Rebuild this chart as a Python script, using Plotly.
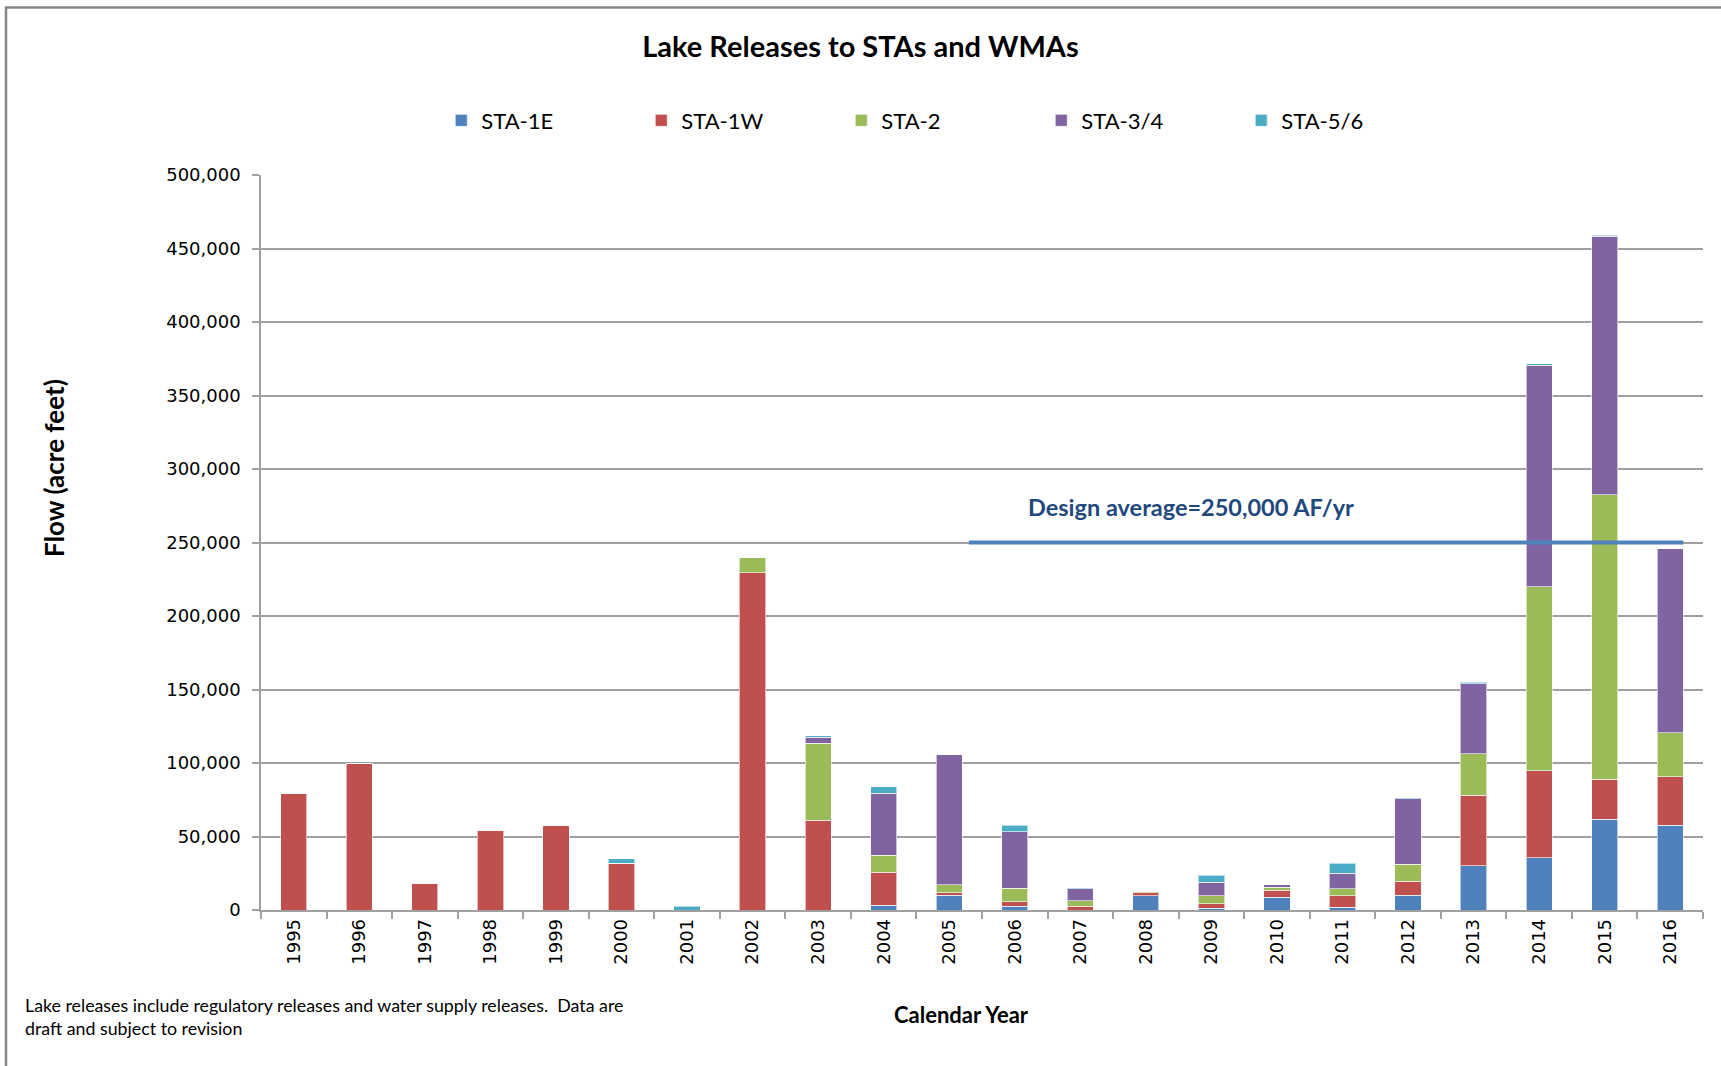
import plotly.graph_objects as go

years = ["1995", "1996", "1997", "1998", "1999", "2000", "2001", "2002", "2003", "2004", "2005",
         "2006", "2007", "2008", "2009", "2010", "2011", "2012", "2013", "2014", "2015", "2016"]

sta_1e = [0, 0, 0, 0, 0, 0, 0, 0, 0, 3400, 10200,
          2700, 0, 9700, 1100, 8800, 1800, 10200, 30100, 35500, 61600, 57500]
sta_1w = [79000, 100000, 18100, 54100, 57700, 31900, 0, 229500, 61100, 22200, 1600,
          2900, 2700, 2100, 3200, 4600, 7900, 9500, 47800, 59100, 27200, 33300]
sta_2 = [0, 0, 0, 0, 0, 0, 0, 10000, 52500, 11500, 5400,
         9100, 3600, 900, 5400, 2200, 4600, 11300, 28300, 125300, 193800, 29900]
sta_34 = [0, 0, 0, 0, 0, 0, 0, 0, 4000, 42400, 88300,
          38500, 8000, 0, 9100, 1600, 10600, 44600, 47800, 150800, 175700, 125000]
sta_56 = [0, 0, 0, 0, 0, 3000, 2600, 0, 1000, 4500, 0,
          4500, 600, 0, 4800, 0, 6800, 700, 900, 900, 700, 0]

series = [
    ("STA-1E", sta_1e, "#4F81BD"),
    ("STA-1W", sta_1w, "#C0504D"),
    ("STA-2", sta_2, "#9BBB59"),
    ("STA-3/4", sta_34, "#8064A2"),
    ("STA-5/6", sta_56, "#4BACC6"),
]

design_average = 250000
design_label = "Design average=250,000 AF/yr"
line_start_year, line_end_year = "2005", "2016"

y_ticks = list(range(0, 500001, 50000))
y_tick_text = ["0"] + [f"{v:,}" for v in y_ticks[1:]]

title_text = "Lake Releases to STAs and WMAs"
y_title = "Flow (acre feet)"
x_title = "Calendar Year"
footnote = "Lake releases include regulatory releases and water supply releases.  Data are<br>draft and subject to revision"

CAL = "Lato, 'Open Sans', sans-serif"
TICKF = "'DejaVu Sans', Verdana, sans-serif"

fig = go.Figure()
for name, vals, color in series:
    fig.add_trace(go.Bar(
        x=years, y=vals, name=name,
        marker=dict(color=color, line=dict(color="rgba(255,255,255,0.6)", width=1)),
    ))

fig.add_shape(
    type="line", xref="x", yref="y",
    x0=years.index(line_start_year) + 0.3, x1=years.index(line_end_year) + 0.2,
    y0=design_average, y1=design_average,
    line=dict(color="#4F81BD", width=4),
    layer="above",
)

fig.add_annotation(
    text=f"<b>{design_label}</b>", xref="paper", yref="y",
    x=0.645, y=274000, showarrow=False, xanchor="center", yanchor="middle",
    font=dict(family=CAL, size=23.5, color="#1F497D"),
)

fig.add_annotation(
    text=f"<b>{y_title}</b>", xref="paper", yref="paper",
    x=-0.144, y=0.602, textangle=-90, showarrow=False,
    xanchor="center", yanchor="middle",
    font=dict(family=CAL, size=26, color="#000000"),
)
fig.add_annotation(
    text=f"<b>{x_title}</b>", xref="paper", yref="paper",
    x=0.4856, y=-0.1428, showarrow=False,
    xanchor="center", yanchor="middle",
    font=dict(family=CAL, size=22, color="#000000"),
)
fig.add_annotation(
    text=footnote, xref="paper", yref="paper",
    x=-0.1648, y=-0.1448, showarrow=False, align="left",
    xanchor="left", yanchor="middle",
    font=dict(family=CAL, size=17.8, color="#000000"),
)

# chart border
fig.add_shape(
    type="rect", xref="paper", yref="paper",
    x0=(6 - 261) / 1442, x1=(1740 - 261) / 1442,
    y0=(910 - 1090) / 735.5, y1=(910 - 7) / 735.5,
    line=dict(color="#888888", width=2.5), layer="below",
)

fig.update_layout(
    width=1721, height=1066,
    margin=dict(l=261, r=18, t=175, b=156),
    barmode="stack", bargap=0.6,
    plot_bgcolor="white", paper_bgcolor="white",
    title=dict(text=f"<b>{title_text}</b>", x=0.5, xref="container", xanchor="center",
               y=1 - 47 / 1066, yref="container", yanchor="middle",
               font=dict(family=CAL, size=29, color="#000000")),
    legend=dict(orientation="h", x=0.125, xanchor="left", y=(910 - 120) / 735.5,
                yanchor="middle", entrywidth=155, entrywidthmode="pixels",
                font=dict(family=CAL, size=22, color="#000000"), traceorder="normal"),
    showlegend=True,
)

fig.update_xaxes(
    type="category", showline=True, linecolor="#A0A0A0", linewidth=1.5,
    ticks="outside", ticklen=7, tickcolor="#A0A0A0", tickwidth=1.5,
    tickson="boundaries", tickangle=-90,
    tickfont=dict(family=TICKF, size=18, color="#000000"),
    showgrid=False,
)
fig.update_yaxes(
    range=[0, 500000], tickvals=y_ticks, ticktext=y_tick_text,
    showline=True, linecolor="#A0A0A0", linewidth=1.5,
    ticks="outside", ticklen=7, tickcolor="#A0A0A0", tickwidth=1.5,
    showgrid=True, gridcolor="#A0A0A0", gridwidth=1.5,
    tickfont=dict(family=TICKF, size=18, color="#000000"),
    ticklabelstandoff=8, zeroline=False,
)

fig.write_html("out.html", config={"displayModeBar": False},
               post_script="document.body.style.margin='0';")
